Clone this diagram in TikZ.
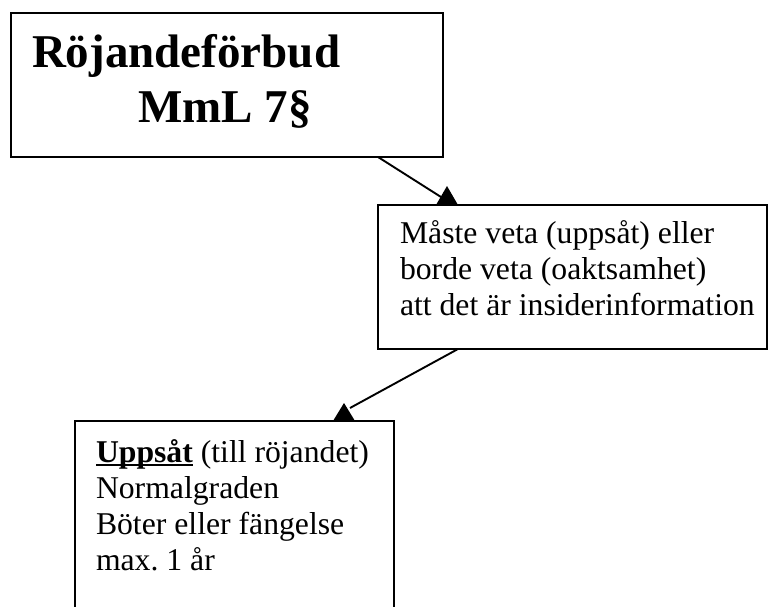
\documentclass[tikz,border=0pt]{standalone}
\usepackage{fontspec}
\setmainfont{Liberation Serif}
\usetikzlibrary{calc}
\frenchspacing

% word with a Word-style underline running through the descenders
\newcommand\wordrule[1]{\setbox0\hbox{#1}\rlap{\rule[-4.4pt]{\wd0}{2.4pt}}\box0}

\begin{document}
\begin{tikzpicture}[x=1pt,y=-1pt,
  box/.style={draw,line width=2pt,fill=white,rectangle,inner sep=0pt,
              outer sep=0pt,anchor=north west},
  txt/.style={anchor=base west,inner sep=0pt,outer sep=0pt},
  title/.style={txt,font=\fontsize{47}{55}\selectfont\bfseries},
  body/.style={txt,font=\fontsize{31.7}{36}\selectfont},
  link/.style={line width=1.9pt},
  head/.style={fill=black}]

\useasboundingbox (0,0) rectangle (768,607);
\fill[white] (0,0) rectangle (768,607);
\clip (0,0) rectangle (768,607);

% boxes
\node[box,minimum width=432pt,minimum height=144pt] (b1) at (11,13) {};
\node[box,minimum width=389pt,minimum height=144pt] (b2) at (378,205) {};
\node[box,minimum width=319pt,minimum height=220pt] (b3) at (75,421) {};

% box texts
\node[title] (b1a) at (32,68) {Röjandeförbud};
\node[title] (b1b) at (138,123) {MmL 7§};

\node[body] (b2a) at (400,243) {Måste veta (uppsåt) eller};
\node[body] (b2b) at (400,279) {borde veta (oaktsamhet)};
\node[body] (b2c) at (400,315) {att det är insiderinformation};

\node[body] (b3a) at (96,462) {\textbf{\wordrule{Uppsåt}} (till röjandet)};
\node[body] (b3b) at (96,498) {Normalgraden};
\node[body] (b3c) at (96,534) {Böter eller fängelse};
\node[body] (b3d) at (96,570) {max. 1 år};

% arrowheads sitting on the top edges of the target boxes
\coordinate (h1) at ($(b2.north west)+(69,-19)$);
\coordinate (h1l) at ($(b2.north west)+(58,0)$);
\coordinate (h1r) at ($(b2.north west)+(80,0)$);
\coordinate (e1) at ($(b2.north west)+(63,-8)$);

\coordinate (h2) at ($(b3.north west)+(269,-18)$);
\coordinate (h2l) at ($(b3.north west)+(258,0)$);
\coordinate (h2r) at ($(b3.north west)+(280,0)$);
\coordinate (e2) at ($(b3.north west)+(275,-13)$);

% connectors
\draw[link] ($(b1.south west)+(367,0)$) -- (e1);
\fill[head] (h1) -- (h1r) -- (h1l) -- cycle;

\draw[link] ($(b2.south west)+(80,0)$) -- (e2);
\fill[head] (h2) -- (h2r) -- (h2l) -- cycle;

\end{tikzpicture}
\end{document}
